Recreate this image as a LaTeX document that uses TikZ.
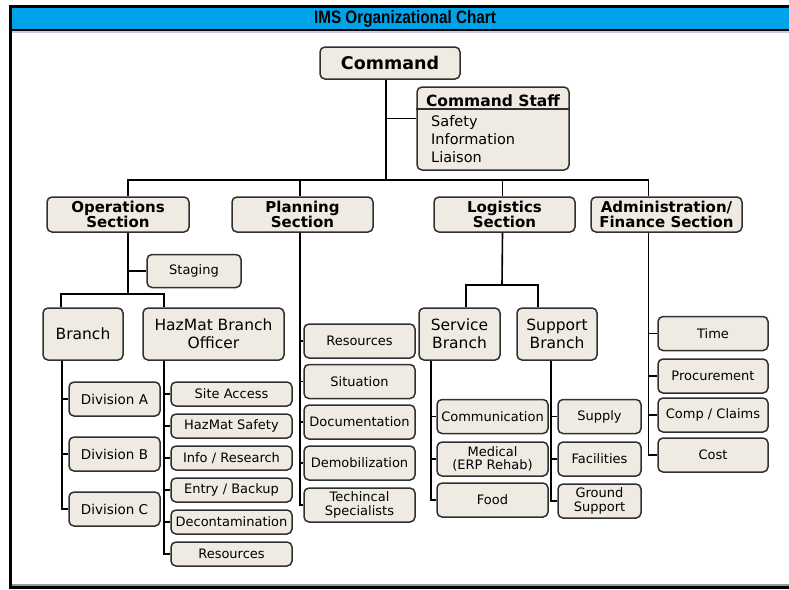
\documentclass[tikz,border=0pt]{standalone}
\usepackage{fontspec}
\setmainfont{DejaVu Sans}
\newfontfamily\titlefont[FakeStretch=0.85]{Liberation Sans}

\definecolor{headblue}{RGB}{0,163,232}
\definecolor{boxfill}{RGB}{240,235,226}
\definecolor{boxline}{RGB}{48,48,48}
\definecolor{rulegray}{RGB}{196,204,226}

\tikzset{
  box/.style={draw=boxline, fill=boxfill, line width=1.5pt, rounded corners=5pt,
    inner sep=0pt, align=center, font=\fontsize{13}{13.5}\selectfont},
  bigbox/.style={box, font=\fontsize{15.5}{18}\selectfont},
  secbox/.style={box, font=\bfseries\fontsize{15}{15}\selectfont, minimum height=35pt},
  link/.style={line width=1.6pt, draw=black},
}

\begin{document}
\begin{tikzpicture}[x=1pt, y=-1pt]

  %% ════ 外框与标题栏 ════
  \fill[headblue] (12,8) rectangle (789,29);
  \fill[black] (9,5) rectangle (789,8);
  \fill[black] (9,5) rectangle (12,589);
  \fill[black] (12,29) rectangle (789,31);
  \fill[rulegray] (12,31) rectangle (789,33);
  \fill[black!40] (12,584) rectangle (789,586);
  \fill[black] (9,586) rectangle (789,589);
  \node[font=\titlefont\bfseries\fontsize{18}{18}\selectfont, inner sep=0pt] (title) at (405,18.5) {IMS Organizational Chart};

  %% ════ 指挥层 ════
  \node[box, font=\bfseries\fontsize{17.5}{20}\selectfont, minimum width=140pt, minimum height=32pt] (cmd) at (390,63) {Command};
  \node[box, minimum width=152pt, minimum height=83pt] (staff) at (493,128.5) {};
  \node[font=\bfseries\fontsize{15.5}{16}\selectfont, inner sep=0pt] (stafftitle) at (493,100.5) {Command Staff};
  \draw[boxline, line width=1.5pt] (staff.west |- 0,109) -- (staff.east |- 0,109);
  \node[anchor=north west, align=left, inner sep=0pt, font=\fontsize{14.5}{18}\selectfont] (stafflist) at (431,115.5) {Safety\\Information\\Liaison};

  %% ════ 四个科 ════
  \node[secbox, minimum width=142pt] (ops) at (118,214.5) {Operations\\Section};
  \node[secbox, minimum width=141pt] (plan) at (302.5,214.5) {Planning\\Section};
  \node[secbox, minimum width=141pt] (logi) at (504.5,214.5) {Logistics\\Section};
  \node[secbox, minimum width=151pt] (adm) at (666.5,214.5) {Administration/\\Finance Section};

  \coordinate (bus) at (386,180);
  \draw[link] ([xshift=-4pt]cmd.south) -- (bus);
  \draw[link] ([xshift=-4pt]cmd.south) |- ([yshift=10pt]staff.west);
  \draw[link] ([xshift=10pt]ops.north) |- (bus);
  \draw[link] ([xshift=-2.5pt]plan.north) |- (bus);
  \draw[link] ([xshift=-2pt]logi.north) |- (bus);
  \draw[link] ([xshift=-18pt]adm.north) |- (bus);

  %% ════ 行动科 ════
  \node[box, minimum width=94pt, minimum height=33pt] (stag) at (194,271) {Staging};
  \node[bigbox, minimum width=80pt, minimum height=52pt] (br) at (83,334) {Branch};
  \node[bigbox, minimum width=141pt, minimum height=52pt] (haz) at (213.5,334) {HazMat Branch\\Officer};

  \coordinate (opsbus) at (128,294);
  \draw[link] ([xshift=10pt]ops.south) -- (opsbus);
  \draw[link] ([xshift=10pt]ops.south) |- (stag.west);
  \draw[link] ([xshift=19pt]br.north west) |- (opsbus);
  \draw[link] ([xshift=22pt]haz.north west) |- (opsbus);

  % Branch 下的分区
  \node[box, font=\fontsize{13.5}{14}\selectfont, minimum width=91pt, minimum height=34pt] (diva) at (114.5,399) {Division A};
  \node[box, font=\fontsize{13.5}{14}\selectfont, minimum width=91pt, minimum height=34pt] (divb) at (114.5,454) {Division B};
  \node[box, font=\fontsize{13.5}{14}\selectfont, minimum width=91pt, minimum height=34pt] (divc) at (114.5,509) {Division C};
  \draw[link] ([xshift=20pt]br.south west) |- (diva.west);
  \draw[link] ([xshift=20pt]br.south west) |- (divb.west);
  \draw[link] ([xshift=20pt]br.south west) |- (divc.west);

  % HazMat 下的小组
  \node[box, minimum width=121pt, minimum height=24pt] (site) at (231.5,394) {Site Access};
  \node[box, minimum width=121pt, minimum height=24pt] (hsafe) at (231.5,426) {HazMat Safety};
  \node[box, minimum width=121pt, minimum height=24pt] (info) at (231.5,458) {Info / Research};
  \node[box, minimum width=121pt, minimum height=24pt] (entry) at (231.5,490) {Entry / Backup};
  \node[box, minimum width=121pt, minimum height=24pt] (decon) at (231.5,522) {Decontamination};
  \node[box, minimum width=121pt, minimum height=24pt] (hres) at (231.5,554) {Resources};
  \draw[link] ([xshift=22pt]haz.south west) |- (site.west);
  \draw[link] ([xshift=22pt]haz.south west) |- (hsafe.west);
  \draw[link] ([xshift=22pt]haz.south west) |- (info.west);
  \draw[link] ([xshift=22pt]haz.south west) |- (entry.west);
  \draw[link] ([xshift=22pt]haz.south west) |- (decon.west);
  \draw[link] ([xshift=22pt]haz.south west) |- (hres.west);

  %% ════ 计划科 ════
  \node[box, minimum width=111pt, minimum height=34pt] (pres) at (359.5,341) {Resources};
  \node[box, minimum width=111pt, minimum height=34pt] (psit) at (359.5,381.5) {Situation};
  \node[box, minimum width=111pt, minimum height=34pt] (pdoc) at (359.5,422) {Documentation};
  \node[box, minimum width=111pt, minimum height=34pt] (pdemob) at (359.5,463) {Demobilization};
  \node[box, minimum width=111pt, minimum height=34pt] (ptech) at (359.5,505) {Techincal\\Specialists};
  \draw[link] ([xshift=-2.5pt]plan.south) |- (pres.west);
  \draw[link] ([xshift=-2.5pt]plan.south) |- (psit.west);
  \draw[link] ([xshift=-2.5pt]plan.south) |- (pdoc.west);
  \draw[link] ([xshift=-2.5pt]plan.south) |- (pdemob.west);
  \draw[link] ([xshift=-2.5pt]plan.south) |- (ptech.west);

  %% ════ 后勤科 ════
  \node[bigbox, minimum width=81pt, minimum height=52pt] (serv) at (459.5,334) {Service\\Branch};
  \node[bigbox, minimum width=80pt, minimum height=52pt] (supp) at (557,334) {Support\\Branch};

  \coordinate (logbus) at (502,285);
  \draw[link] ([xshift=-2pt]logi.south) -- (logbus);
  \draw[link] ([xshift=6.5pt]serv.north) |- (logbus);
  \draw[link] ([xshift=-19pt]supp.north) |- (logbus);

  \node[box, minimum width=111pt, minimum height=34pt] (comm) at (492.5,416.5) {Communication};
  \node[box, minimum width=111pt, minimum height=34pt] (med) at (492.5,459) {Medical\\(ERP Rehab)};
  \node[box, minimum width=111pt, minimum height=34pt] (food) at (492.5,500) {Food};
  \draw[link] ([xshift=13pt]serv.south west) |- (comm.west);
  \draw[link] ([xshift=13pt]serv.south west) |- (med.west);
  \draw[link] ([xshift=13pt]serv.south west) |- (food.west);

  \node[box, minimum width=83pt, minimum height=34pt] (supply) at (599.5,416.5) {Supply};
  \node[box, minimum width=83pt, minimum height=34pt] (facil) at (599.5,459) {Facilities};
  \node[box, minimum width=83pt, minimum height=34pt] (ground) at (599.5,501) {Ground\\Support};
  \draw[link] ([xshift=-6pt]supp.south) |- (supply.west);
  \draw[link] ([xshift=-6pt]supp.south) |- (facil.west);
  \draw[link] ([xshift=-6pt]supp.south) |- (ground.west);

  %% ════ 行政财务科 ════
  \node[box, minimum width=110pt, minimum height=34pt] (time) at (713,333.5) {Time};
  \node[box, minimum width=110pt, minimum height=34pt] (proc) at (713,376) {Procurement};
  \node[box, minimum width=110pt, minimum height=34pt] (claims) at (713,415) {Comp / Claims};
  \node[box, minimum width=110pt, minimum height=34pt] (cost) at (713,455) {Cost};
  \draw[link] ([xshift=-18pt]adm.south) |- (time.west);
  \draw[link] ([xshift=-18pt]adm.south) |- (proc.west);
  \draw[link] ([xshift=-18pt]adm.south) |- (claims.west);
  \draw[link] ([xshift=-18pt]adm.south) |- (cost.west);

  % 钉死画布
  \pgfresetboundingbox
  \path[use as bounding box] (0,0) rectangle (789,589);
\end{tikzpicture}
\end{document}
